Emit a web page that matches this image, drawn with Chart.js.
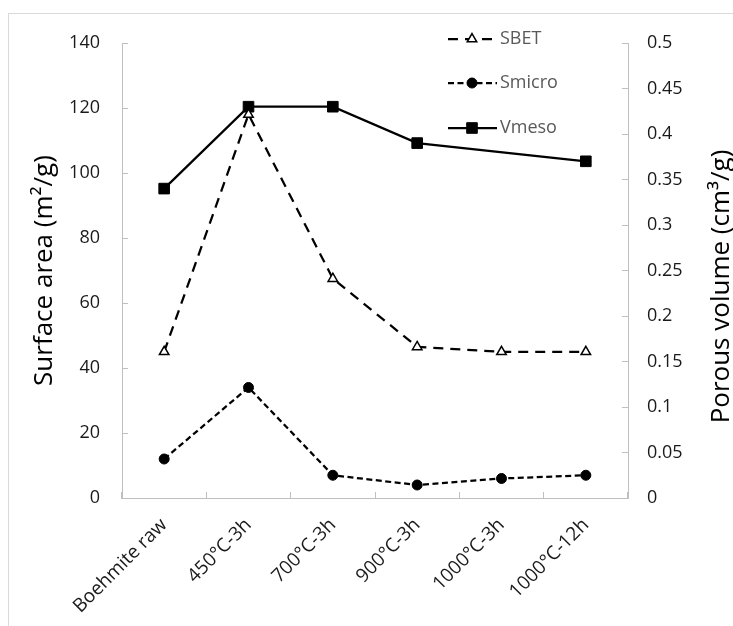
<!DOCTYPE html>
<html>
<head>
<meta charset="utf-8">
<script src="https://cdn.jsdelivr.net/npm/chart.js@4/dist/chart.umd.min.js"></script>
<style>
  html, body { margin: 0; padding: 0; background: #fff; }
  #wrap { position: relative; width: 733px; height: 626px; overflow: hidden; }
  #frame { position: absolute; left: 8px; top: 13px; width: 800px; height: 700px; border-left: 1px solid #d9d9d9; border-top: 1px solid #d9d9d9; }
  #chart { position: absolute; left: 0; top: 0; }
</style>
</head>
<body>
<div id="wrap">
  <div id="frame"></div>
  <canvas id="chart" width="733" height="626"></canvas>
</div>
<script>
const categories = ['Boehmite raw', '450°C-3h', '700°C-3h', '900°C-3h', '1000°C-3h', '1000°C-12h'];
const sbet = [45, 118, 67.5, 46.5, 45, 45];
const smicro = [12, 34, 7, 4, 6, 7];
const vmeso = [0.34, 0.43, 0.43, 0.39, null, 0.37];
const leftTicks = [0, 20, 40, 60, 80, 100, 120, 140];
const rightTicks = [0, 0.05, 0.1, 0.15, 0.2, 0.25, 0.3, 0.35, 0.4, 0.45, 0.5];
const leftTitle = 'Surface area (m²/g)';
const rightTitle = 'Porous volume (cm³/g)';

const FONT = "'Open Sans', sans-serif";
const AXIS_GRAY = '#bfbfbf';
const LABEL_COLOR = '#1a1a1a';

function setTicks(values) {
  return (scale) => { scale.ticks = values.map((v) => ({ value: v })); };
}

// legend with line sample + marker, and the right-hand title read bottom-to-top
const extras = {
  id: 'extras',
  afterDraw(chart) {
    const ctx = chart.ctx;
    const rows = [39, 83, 128];
    chart.data.datasets.forEach((ds, i) => {
      const y = rows[i];
      ctx.save();
      ctx.strokeStyle = ds.borderColor;
      ctx.lineWidth = ds.borderWidth;
      ctx.setLineDash(ds.borderDash || []);
      ctx.beginPath();
      ctx.moveTo(448, y);
      ctx.lineTo(497, y);
      ctx.stroke();
      ctx.setLineDash([]);
      ctx.fillStyle = ds.pointBackgroundColor;
      ctx.strokeStyle = ds.pointBorderColor;
      ctx.lineWidth = ds.pointBorderWidth;
      Chart.helpers.drawPoint(ctx, { pointStyle: ds.pointStyle, radius: ds.pointRadius, borderWidth: ds.pointBorderWidth, rotation: 0 }, 472, y);
      ctx.fillStyle = '#595959';
      ctx.font = `18px ${FONT}`;
      ctx.textAlign = 'left';
      ctx.textBaseline = 'middle';
      ctx.fillText(ds.label, 500, y);
      ctx.restore();
    });

    const area = chart.chartArea;
    ctx.save();
    ctx.translate(722, (area.top + area.bottom) / 2 + 16);
    ctx.rotate(-Math.PI / 2);
    ctx.fillStyle = '#000';
    ctx.font = `26px ${FONT}`;
    ctx.textAlign = 'center';
    ctx.textBaseline = 'middle';
    ctx.fillText(rightTitle, 0, 0);
    ctx.restore();
  }
};

new Chart(document.getElementById('chart'), {
  type: 'line',
  data: {
    labels: categories,
    datasets: [
      {
        label: 'SBET',
        data: sbet,
        yAxisID: 'y',
        borderColor: '#000',
        borderWidth: 2.25,
        borderDash: [10, 7],
        pointStyle: 'triangle',
        pointRadius: 5.5,
        pointBackgroundColor: '#fff',
        pointBorderColor: '#000',
        pointBorderWidth: 1.5,
        tension: 0
      },
      {
        label: 'Smicro',
        data: smicro,
        yAxisID: 'y',
        borderColor: '#000',
        borderWidth: 2.25,
        borderDash: [6, 3.5],
        pointStyle: 'circle',
        pointRadius: 5,
        pointBackgroundColor: '#000',
        pointBorderColor: '#000',
        pointBorderWidth: 1,
        tension: 0
      },
      {
        label: 'Vmeso',
        data: vmeso,
        yAxisID: 'y1',
        borderColor: '#000',
        borderWidth: 2.25,
        borderDash: [],
        pointStyle: 'rect',
        pointRadius: 7.5,
        pointBackgroundColor: '#000',
        pointBorderColor: '#000',
        pointBorderWidth: 1,
        spanGaps: true,
        tension: 0
      }
    ]
  },
  options: {
    responsive: false,
    devicePixelRatio: 1,
    animation: false,
    layout: { padding: { top: 43, left: 0, right: 0, bottom: 0 } },
    plugins: {
      legend: { display: false },
      tooltip: { enabled: false }
    },
    scales: {
      x: {
        offset: true,
        afterFit(scale) { scale.height = 128; },
        grid: { display: true, offset: true, drawOnChartArea: false, drawTicks: true, tickLength: -6, color: AXIS_GRAY },
        border: { display: true, color: AXIS_GRAY, width: 1 },
        ticks: { color: LABEL_COLOR, font: { family: FONT, size: 19 }, minRotation: 45, maxRotation: 45, padding: 22, autoSkip: false }
      },
      y: {
        position: 'left',
        min: 0,
        max: 140,
        afterBuildTicks: setTicks(leftTicks),
        afterFit(scale) { scale.width = 122; },
        grid: { display: true, drawOnChartArea: false, drawTicks: true, tickLength: -6, color: AXIS_GRAY },
        border: { display: true, color: AXIS_GRAY, width: 1 },
        ticks: { color: LABEL_COLOR, font: { family: FONT, size: 18 }, padding: 28 },
        title: { display: true, text: leftTitle, color: '#000', font: { family: FONT, size: 26, lineHeight: 1 }, padding: { top: 32, bottom: 0 } }
      },
      y1: {
        position: 'right',
        min: 0,
        max: 0.5,
        afterBuildTicks: setTicks(rightTicks),
        afterFit(scale) { scale.width = 105; },
        grid: { display: true, drawOnChartArea: false, drawTicks: true, tickLength: -6, color: AXIS_GRAY },
        border: { display: true, color: AXIS_GRAY, width: 1 },
        ticks: {
          color: LABEL_COLOR,
          font: { family: FONT, size: 18 },
          padding: 25,
          callback(value) { return String(parseFloat(Number(value).toFixed(2))); }
        }
      }
    }
  },
  plugins: [extras]
});
</script>
</body>
</html>
